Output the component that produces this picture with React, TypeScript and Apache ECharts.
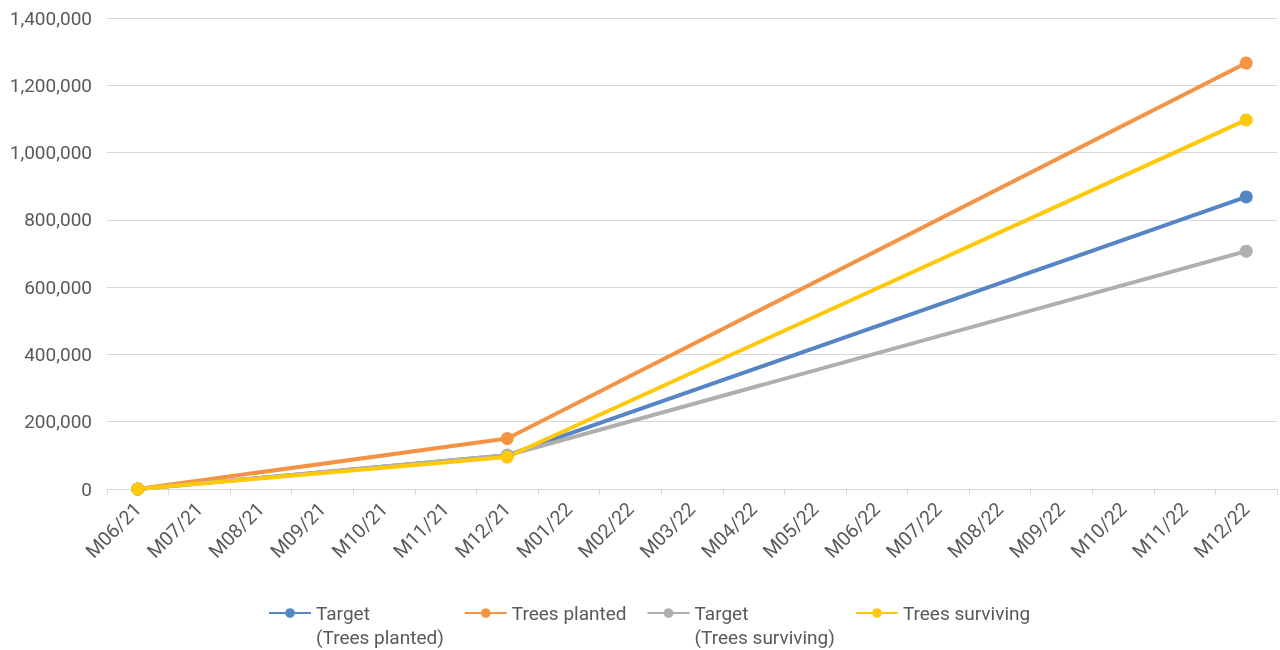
import React, { useEffect, useRef } from "react";
import * as echarts from "echarts";

const categories = [
  "M06/21", "M07/21", "M08/21", "M09/21", "M10/21", "M11/21", "M12/21",
  "M01/22", "M02/22", "M03/22", "M04/22", "M05/22", "M06/22", "M07/22",
  "M08/22", "M09/22", "M10/22", "M11/22", "M12/22",
];

const targetPlanted = [0, null, null, null, null, null, 100000, null, null, null, null, null, null, null, null, null, null, null, 868000];
const treesPlanted = [0, null, null, null, null, null, 150000, null, null, null, null, null, null, null, null, null, null, null, 1266000];
const targetSurviving = [0, null, null, null, null, null, 100000, null, null, null, null, null, null, null, null, null, null, null, 707000];
const treesSurviving = [0, null, null, null, null, null, 95000, null, null, null, null, null, null, null, null, null, null, null, 1097000];

const seriesNames = ["Target\n(Trees planted)", "Trees planted", "Target\n(Trees surviving)", "Trees surviving"];
const colors = ["#5685C6", "#F39343", "#AFAFAF", "#FFC90A"];
const yTicks = { min: 0, max: 1400000, interval: 200000 };

export default function App() {
  const ref = useRef<HTMLDivElement>(null);
  useEffect(() => {
    if (!ref.current) return;
    const chart = echarts.init(ref.current, null, { renderer: "svg" });
    const dataSets = [targetPlanted, treesPlanted, targetSurviving, treesSurviving];
    const font = "Roboto";
    chart.setOption({
      animation: false,
      textStyle: { fontFamily: font },
      grid: { left: 107, right: 3, top: 18, bottom: 161, containLabel: false },
      xAxis: {
        type: "category",
        data: categories,
        boundaryGap: true,
        axisLine: { lineStyle: { color: "#D9D9D9", width: 1 } },
        axisTick: { show: true, alignWithLabel: false, length: 6, lineStyle: { color: "#D9D9D9" } },
        axisLabel: { rotate: 45, color: "#595959", fontSize: 19.5, fontFamily: font, margin: 17, interval: 0 },
      },
      yAxis: {
        type: "value",
        min: yTicks.min,
        max: yTicks.max,
        interval: yTicks.interval,
        axisLine: { show: false },
        axisTick: { show: false },
        splitLine: { lineStyle: { color: "#D9D9D9", width: 1 } },
        axisLabel: {
          color: "#595959",
          fontSize: 19,
          fontFamily: font,
          margin: 15,
          formatter: (v: number) => v.toLocaleString("en-US"),
        },
      },
      legend: {
        left: 268,
        top: 577,
        padding: 0,
        itemWidth: 42,
        itemHeight: 12,
        itemGap: 20,
        textStyle: { color: "#595959", fontSize: 19, fontFamily: font, lineHeight: 24 },
        formatter: (name: string) => (name.includes("\n") ? "\u00a0\n" + name : name),
        data: seriesNames,
      },
      series: dataSets.map((d, i) => ({
        name: seriesNames[i],
        type: "line",
        data: d,
        connectNulls: true,
        symbol: "circle",
        symbolSize: 13,
        showAllSymbol: true,
        color: colors[i],
        lineStyle: { width: 4, color: colors[i] },
        itemStyle: { color: colors[i] },
      })),
    });
    return () => chart.dispose();
  }, []);
  return <div ref={ref} style={{ position: "fixed", left: 0, top: 0, width: 1280, height: 650 }} />;
}
